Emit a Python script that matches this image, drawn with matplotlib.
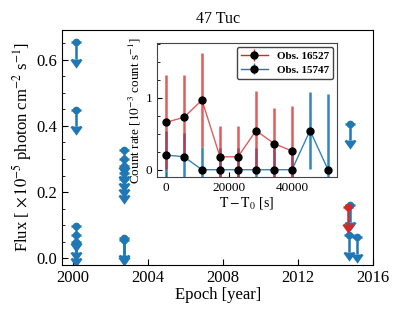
import matplotlib
matplotlib.use("Agg")
import matplotlib.pyplot as plt
from matplotlib.ticker import MultipleLocator
import numpy as np

plt.rcParams['font.family'] = ['Liberation Serif', 'DejaVu Serif']
plt.rcParams['mathtext.fontset'] = 'stix'

# ---- main panel data: upper limits (flux, 1e-5 photon cm^-2 s^-1) ----
epoch_2000 = [2000.16, 2000.16, 2000.16, 2000.16, 2000.16]
flux_2000 = [0.653, 0.449, 0.097, 0.070, 0.050]
epoch_2002 = [2002.72, 2002.72, 2002.72, 2002.72, 2002.72, 2002.72, 2002.72]
flux_2002 = [0.327, 0.300, 0.278, 0.258, 0.240, 0.060, 0.055]
epoch_2014 = [2014.77, 2014.75, 2014.72, 2015.13]
flux_2014 = [0.407, 0.160, 0.070, 0.063]
epoch_red = [2014.68]
flux_red = [0.155]
arrow_len = 0.05

# ---- inset data: count rate light curves ----
t_16527 = [0, 5700, 11400, 17100, 22800, 28500, 34200, 39900]
rate_16527 = [0.66, 0.73, 0.97, 0.18, 0.18, 0.545, 0.365, 0.26]
err_16527 = [0.655, 0.585, 0.66, 0.43, 0.43, 0.55, 0.49, 0.63]
t_15747 = [0, 5700, 11400, 17100, 22800, 28500, 34200, 39900, 45600, 51300]
rate_15747 = [0.205, 0.18, 0.0, 0.0, 0.0, 0.0, 0.0, 0.0, 0.545, 0.0]
err_15747 = [0.33, 0.33, 0.31, 0.3, 0.3, 0.3, 0.3, 0.3, 0.54, 1.05]

blue = '#1f77b4'
red = '#d62728'

fig = plt.figure(figsize=(4.15, 3.12), dpi=100)
ax = fig.add_axes([0.150, 0.151, 0.749, 0.753])

def uplim(ax, x, y, color, z=2):
    n = len(y)
    ax.errorbar(x, y, yerr=[[arrow_len] * n, [0] * n], uplims=True, fmt='o',
                ms=4.5, color=color, ecolor=color, elinewidth=1.8,
                capsize=3.5, capthick=1.8, zorder=z)

uplim(ax, epoch_2000, flux_2000, blue)
uplim(ax, epoch_2002, flux_2002, blue)
uplim(ax, epoch_2014, flux_2014, blue)
uplim(ax, epoch_red, flux_red, red, z=3)

ax.set_xlim(1999.43, 2016.0)
ax.set_ylim(-0.02, 0.69)
ax.xaxis.set_major_locator(MultipleLocator(4))
ax.yaxis.set_major_locator(MultipleLocator(0.2))
ax.yaxis.set_minor_locator(MultipleLocator(0.05))
ax.tick_params(which='both', direction='in', labelsize=12)
ax.tick_params(which='major', length=4)
ax.tick_params(which='minor', length=2.5)
ax.set_xlabel('Epoch [year]', fontsize=12, labelpad=1)
ax.set_ylabel(r'Flux [ $\times\,10^{-5}$ photon cm$^{-2}$ s$^{-1}$]', fontsize=12, labelpad=2)
ax.set_title('47 Tuc', fontsize=11.5, pad=5)

# ---- inset ----
ins = fig.add_axes([0.379, 0.433, 0.432, 0.428])
ins.errorbar(t_15747, rate_15747, yerr=err_15747, fmt='-', color=blue,
             ecolor=blue, elinewidth=1.8, lw=1.0, zorder=2, alpha=0.9)
ins.errorbar(t_16527, rate_16527, yerr=err_16527, fmt='-', color=red,
             ecolor=red, elinewidth=1.8, lw=1.0, zorder=3, alpha=0.75)
ins.plot(t_15747, rate_15747, 'o', color='black', ms=5, zorder=5)
ins.plot(t_16527, rate_16527, 'o', color='black', ms=5, zorder=5)

h_red = ins.errorbar([], [], yerr=[], fmt='-o', color=red, mfc='black', mec='black', ms=5, lw=1.0)
h_blue = ins.errorbar([], [], yerr=[], fmt='-o', color=blue, mfc='black', mec='black', ms=5, lw=1.0)
leg = ins.legend([h_red, h_blue], ['Obs. 16527', 'Obs. 15747'], loc='upper right',
                 prop={'weight': 'bold', 'size': 8}, handlelength=2.4,
                 borderpad=0.4, labelspacing=0.35, borderaxespad=0.3,
                 fancybox=True, framealpha=1)
leg.get_frame().set_edgecolor('#444444')

ins.set_xlim(-2750, 54000)
ins.set_ylim(-0.1, 1.76)
ins.xaxis.set_major_locator(MultipleLocator(20000))
ins.yaxis.set_major_locator(MultipleLocator(1))
ins.yaxis.set_minor_locator(MultipleLocator(0.25))
ins.tick_params(which='both', direction='in', labelsize=9.5)
ins.tick_params(which='major', length=3.5)
ins.tick_params(which='minor', length=2)
for s in ins.spines.values():
    s.set_edgecolor('#444444')
ins.set_xlabel(r'$\mathrm{T - T_0}$ [s]', fontsize=10, labelpad=1)
ins.set_ylabel(r'Count rate [$10^{-3}$ count s$^{-1}$]', fontsize=9.5, labelpad=2)

fig.savefig('out.png', dpi=100)
